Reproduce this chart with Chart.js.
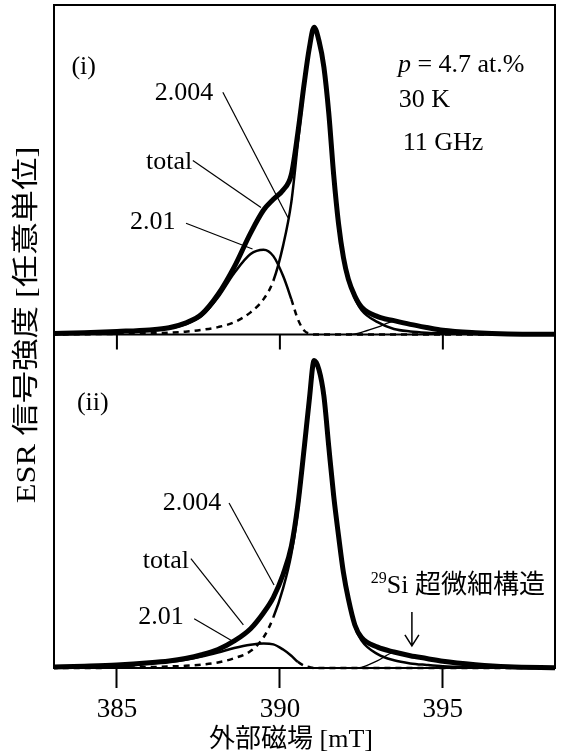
<!DOCTYPE html>
<html>
<head>
<meta charset="utf-8">
<script src="https://cdn.jsdelivr.net/npm/chart.js@4.4.1/dist/chart.umd.min.js"></script>
<style>
  html, body { margin: 0; padding: 0; background: #fff; }
</style>
</head>
<body>
<canvas id="esr" width="563" height="756"></canvas>
<script>
// magnetic field grid (mT)
const field = [383.0, 384.0, 385.0, 386.0, 386.6, 387.1, 387.6, 388.1, 388.6, 389.1,
               389.5, 389.8, 390.1, 390.35, 390.55, 390.75, 390.9, 391.05, 391.2, 391.35,
               391.5, 391.65, 391.8, 391.95, 392.1, 392.3, 392.5, 393.0, 393.5, 394.0,
               394.5, 395.0, 396.0, 397.0, 398.5];

// panel (i)
const total1 = [0.003, 0.006, 0.010, 0.015, 0.022, 0.037, 0.066, 0.130, 0.220, 0.330,
                0.405, 0.440, 0.470, 0.520, 0.655, 0.820, 0.930, 1.000, 0.955, 0.870,
                0.720, 0.520, 0.360, 0.250, 0.180, 0.125, 0.090, 0.058, 0.045, 0.033,
                0.023, 0.014, 0.006, 0.002, 0.001];
const g2004_1 = [0.000, 0.001, 0.002, 0.004, 0.006, 0.009, 0.015, 0.024, 0.040, 0.072,
                 0.115, 0.175, 0.290, 0.430, 0.620, 0.810, 0.925, 0.995, 0.950, 0.865,
                 0.715, 0.515, 0.355, 0.245, 0.175, 0.118, 0.080, 0.040, 0.018, 0.010,
                 0.006, 0.004, 0.002, 0.001, 0.000];
const g201_1 = [0.003, 0.006, 0.009, 0.014, 0.020, 0.033, 0.060, 0.120, 0.200, 0.262,
                0.276, 0.255, 0.190, 0.115, 0.050, 0.012, 0.003, 0.000, 0.000, 0.000,
                0.000, 0.000, 0.000, 0.000, 0.000, 0.000, 0.000, 0.000, 0.000, 0.000,
                0.000, 0.000, 0.000, 0.000, 0.000];
const si1 = [null, null, null, null, null, null, null, null, null, null,
             null, null, null, null, null, null, null, null, null, null,
             null, null, null, null, 0.000, 0.002, 0.007, 0.024, 0.042, 0.033,
             0.023, 0.014, 0.006, 0.002, 0.001];

// panel (ii)
const total2 = [0.003, 0.006, 0.010, 0.017, 0.023, 0.031, 0.043, 0.060, 0.088, 0.128,
                0.180, 0.230, 0.305, 0.395, 0.530, 0.720, 0.870, 1.000, 0.970, 0.885,
                0.720, 0.560, 0.430, 0.310, 0.225, 0.140, 0.100, 0.068, 0.052, 0.040,
                0.031, 0.022, 0.011, 0.004, 0.001];
const g2004_2 = [0.000, 0.000, 0.001, 0.003, 0.005, 0.007, 0.011, 0.018, 0.032, 0.055,
                 0.100, 0.165, 0.260, 0.370, 0.510, 0.710, 0.865, 0.995, 0.965, 0.880,
                 0.715, 0.555, 0.425, 0.305, 0.220, 0.135, 0.090, 0.045, 0.025, 0.015,
                 0.010, 0.006, 0.003, 0.001, 0.000];
const g201_2 = [0.002, 0.003, 0.004, 0.015, 0.020, 0.027, 0.037, 0.050, 0.065, 0.076,
                0.080, 0.077, 0.060, 0.040, 0.020, 0.007, 0.003, 0.000, 0.000, 0.000,
                0.000, 0.000, 0.000, 0.000, 0.000, 0.000, 0.000, 0.000, 0.000, 0.000,
                0.000, 0.000, 0.000, 0.000, 0.000];
const si2 = [null, null, null, null, null, null, null, null, null, null,
             null, null, null, null, null, null, null, null, null, null,
             null, null, null, null, null, 0.000, 0.002, 0.024, 0.050, 0.040,
             0.031, 0.022, 0.011, 0.004, 0.001];

const tickFields = [385, 390, 395];

const SERIF = '"Liberation Serif", "Noto Sans CJK JP", serif';

// annotations, in data units of each panel
const notesTop = [
  { text: '(i)', x: 383.98, y: 0.870, align: 'center' },
  { text: '2.004', x: 387.06, y: 0.785, align: 'center', to: [388.25, 0.788, 390.25, 0.380] },
  { text: 'total', x: 386.60, y: 0.560, align: 'center', to: [387.33, 0.566, 389.42, 0.413] },
  { text: '2.01', x: 386.10, y: 0.365, align: 'center', to: [387.12, 0.362, 389.16, 0.278] },
  { text: '30 K', x: 393.65, y: 0.762, align: 'left' },
  { text: '11 GHz', x: 393.77, y: 0.622, align: 'left' }
];
const notesBot = [
  { text: '(ii)', x: 384.26, y: 0.863, align: 'center' },
  { text: '2.004', x: 387.30, y: 0.537, align: 'center', to: [388.44, 0.537, 389.82, 0.270] },
  { text: 'total', x: 386.50, y: 0.349, align: 'center', to: [387.27, 0.356, 388.88, 0.140] },
  { text: '2.01', x: 386.35, y: 0.166, align: 'center', to: [387.37, 0.160, 388.50, 0.090] }
];

function pts(arr) {
  return field.map((x, i) => ({ x: x, y: arr[i] }));
}

function dashWhen(test) {
  return ctx => test(ctx.p0.parsed.x, ctx.p1.parsed.x) ? [6, 5] : undefined;
}

const thick = { borderColor: '#000', borderWidth: 5, pointRadius: 0, cubicInterpolationMode: 'monotone', order: 0 };
const thin = { borderColor: '#000', borderWidth: 2.5, pointRadius: 0, cubicInterpolationMode: 'monotone', order: 1 };
const hair = { borderColor: '#000', borderWidth: 1.3, pointRadius: 0, cubicInterpolationMode: 'monotone', order: 2 };

const clipBase = { left: 0, right: 0, top: 0, bottom: 3 };

const frame = {
  id: 'frame',
  afterDatasetsDraw(chart) {
    const { ctx, chartArea: a, scales } = chart;
    const x = scales.x, yTop = scales.yTop, yBot = scales.yBot;
    ctx.save();
    ctx.strokeStyle = '#000';
    ctx.lineWidth = 2;
    ctx.strokeRect(a.left, a.top, a.right - a.left, a.bottom - a.top);
    const mid = yTop.bottom;
    ctx.beginPath();
    ctx.moveTo(a.left, mid);
    ctx.lineTo(a.right, mid);
    tickFields.forEach(v => {
      const px = x.getPixelForValue(v);
      ctx.moveTo(px, mid);
      ctx.lineTo(px, mid + 15);
    });
    ctx.stroke();

    // annotations
    ctx.fillStyle = '#000';
    ctx.textBaseline = 'middle';
    const draw = (notes, ys) => {
      notes.forEach(n => {
        ctx.font = '26px ' + SERIF;
        ctx.textAlign = n.align;
        ctx.fillText(n.text, x.getPixelForValue(n.x), ys.getPixelForValue(n.y));
        if (n.to) {
          ctx.lineWidth = 1.2;
          ctx.beginPath();
          ctx.moveTo(x.getPixelForValue(n.to[0]), ys.getPixelForValue(n.to[1]));
          ctx.lineTo(x.getPixelForValue(n.to[2]), ys.getPixelForValue(n.to[3]));
          ctx.stroke();
        }
      });
    };
    draw(notesTop, yTop);
    draw(notesBot, yBot);

    // p = 4.7 at.%
    ctx.textAlign = 'left';
    let px = x.getPixelForValue(393.62);
    const py = yTop.getPixelForValue(0.876);
    ctx.font = 'italic 26px ' + SERIF;
    ctx.fillText('p', px, py);
    px += ctx.measureText('p').width;
    ctx.font = '26px ' + SERIF;
    ctx.fillText(' = 4.7 at.%', px, py);

    // 29Si hyperfine label and arrow
    let sx = x.getPixelForValue(392.79);
    const sy = yBot.getPixelForValue(0.267);
    ctx.font = '16px ' + SERIF;
    ctx.fillText('29', sx, sy - 7);
    sx += ctx.measureText('29').width;
    ctx.font = '26px ' + SERIF;
    ctx.fillText('Si 超微細構造', sx, sy);
    const ax = x.getPixelForValue(394.05);
    const a0 = yBot.getPixelForValue(0.182), a1 = yBot.getPixelForValue(0.072);
    ctx.lineWidth = 1.5;
    ctx.beginPath();
    ctx.moveTo(ax, a0); ctx.lineTo(ax, a1);
    ctx.moveTo(ax - 7, a1 - 11); ctx.lineTo(ax, a1); ctx.lineTo(ax + 7, a1 - 11);
    ctx.stroke();

    // axis titles
    ctx.textAlign = 'center';
    ctx.font = '26px ' + SERIF;
    ctx.fillText('外部磁場 [mT]', 291, a.bottom + 72);

    ctx.save();
    ctx.translate(28, 325);
    ctx.rotate(-Math.PI / 2);
    ctx.scale(1.2, 1);
    ctx.font = '27px ' + SERIF;
    ctx.fillText('ESR 信号強度 [任意単位]', 0, 0);
    ctx.restore();
    ctx.restore();
  }
};

new Chart(document.getElementById('esr'), {
  type: 'line',
  data: {
    datasets: [
      Object.assign({ label: 'total (i)', data: pts(total1), yAxisID: 'yTop', clip: clipBase }, thick),
      Object.assign({ label: '2.004 (i)', data: pts(g2004_1), yAxisID: 'yTop', clip: clipBase,
        segment: { borderDash: dashWhen((a, b) => b <= 389.8) } }, thin),
      Object.assign({ label: '2.01 (i)', data: pts(g201_1), yAxisID: 'yTop', clip: clipBase,
        segment: { borderDash: dashWhen((a, b) => a >= 390.35) } }, thin),
      Object.assign({ label: '29Si (i)', data: pts(si1), yAxisID: 'yTop', clip: clipBase }, hair),
      Object.assign({ label: 'total (ii)', data: pts(total2), yAxisID: 'yBot', clip: clipBase }, thick),
      Object.assign({ label: '2.004 (ii)', data: pts(g2004_2), yAxisID: 'yBot', clip: clipBase,
        segment: { borderDash: dashWhen((a, b) => b <= 389.8) } }, thin),
      Object.assign({ label: '2.01 (ii)', data: pts(g201_2), yAxisID: 'yBot', clip: clipBase,
        segment: { borderDash: dashWhen((a, b) => a >= 390.55) } }, thin),
      Object.assign({ label: '29Si (ii)', data: pts(si2), yAxisID: 'yBot', clip: clipBase }, hair)
    ]
  },
  options: {
    responsive: false,
    animation: false,
    devicePixelRatio: 1,
    layout: { padding: { left: 46, top: 5, right: 8, bottom: 25 } },
    plugins: { legend: { display: false }, tooltip: { enabled: false } },
    scales: {
      x: {
        type: 'linear',
        min: 383.07,
        max: 398.44,
        afterBuildTicks: s => { s.ticks = tickFields.map(v => ({ value: v })); },
        grid: { drawOnChartArea: false, tickLength: 20, tickWidth: 2, tickColor: '#000' },
        border: { display: true, color: '#000', width: 2 },
        ticks: { color: '#000', padding: 8, maxRotation: 0, font: { family: SERIF, size: 27, lineHeight: 1 } }
      },
      yBot: {
        type: 'linear', position: 'left', stack: 'esr', stackWeight: 333,
        min: 0, max: 1.085,
        ticks: { display: false },
        grid: { display: false },
        border: { display: true, color: '#000', width: 2 }
      },
      yTop: {
        type: 'linear', position: 'left', stack: 'esr', stackWeight: 329,
        min: 0, max: 1.072,
        ticks: { display: false },
        grid: { display: false },
        border: { display: true, color: '#000', width: 2 }
      }
    }
  },
  plugins: [frame]
});
</script>
</body>
</html>
